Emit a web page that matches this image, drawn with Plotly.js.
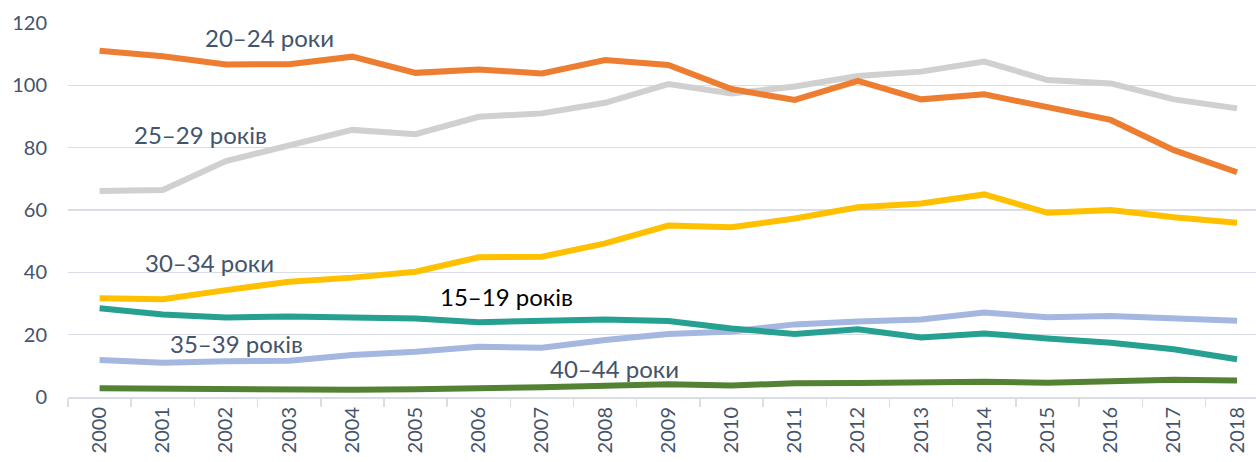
<!DOCTYPE html>
<html>
<head>
<meta charset="utf-8">
<script src="https://cdn.plot.ly/plotly-3.0.1.min.js"></script>
<style>html,body{margin:0;padding:0;background:#fff;}#chart{width:1256px;height:462px;}</style>
</head>
<body>
<div id="chart"></div>
<script>
const years = ["2000","2001","2002","2003","2004","2005","2006","2007","2008","2009","2010","2011","2012","2013","2014","2015","2016","2017","2018"];
const age15_19 = [28.5,26.5,25.5,25.8,25.5,25.2,24.0,24.5,24.9,24.4,22.0,20.2,21.7,19.1,20.4,18.8,17.4,15.3,12.1];
const age20_24 = [111.1,109.3,106.7,106.8,109.2,104.0,105.1,103.8,108.1,106.5,98.8,95.3,101.4,95.5,97.1,93.1,88.9,79.2,72.1];
const age25_29 = [66.1,66.4,75.7,80.6,85.7,84.3,89.9,91.0,94.4,100.4,97.4,99.6,103.0,104.4,107.6,101.7,100.6,95.5,92.6];
const age30_34 = [31.7,31.4,34.3,37.0,38.3,40.2,44.8,45.0,49.3,55.0,54.5,57.3,60.9,62.1,65.0,59.1,60.0,57.7,55.9];
const age35_39 = [11.9,11.0,11.5,11.6,13.5,14.5,16.1,15.8,18.3,20.2,21.0,23.3,24.2,24.9,27.1,25.6,26.0,25.2,24.5];
const age40_44 = [2.8,2.7,2.6,2.2,2.3,2.5,2.6,3.1,3.6,4.1,3.7,4.4,4.5,4.7,4.9,4.6,5.2,5.5,5.3];
const seriesNames = ["15–19 років","20–24 роки","25–29 років","30–34 роки","35–39 років","40–44 роки"];

const colors = ["#26A091","#ED7D31","#D0D0D0","#FFC000","#A4B7E1","#548235"];
const data = [age25_29, age20_24, age30_34, age35_39, age15_19, age40_44];
const order = [2,1,3,4,0,5];
const traces = order.map((si, k) => ({
  type: "scatter", mode: "lines", x: years, y: data[k], name: seriesNames[si],
  line: {color: colors[si], width: 6}, hoverinfo: "skip"
}));

const labelColor = "#44546A";
const font = "Lato, sans-serif";
const fs = 20;
const afs = 24;
const ann = (text, x, y, color) => ({text, x, y, xref: "x", yref: "y", showarrow: false,
  font: {family: font, size: afs, color}, xanchor: "center", yanchor: "middle"});

const layout = {
  width: 1256, height: 462,
  margin: {l: 68, r: 0, t: 23, b: 65},
  paper_bgcolor: "#fff", plot_bgcolor: "#fff",
  showlegend: false,
  font: {family: font, size: fs, color: labelColor},
  xaxis: {type: "category", range: [-0.5, 18.3], tickangle: -90, tickson: "boundaries",
    ticks: "outside", ticklen: 8, tickwidth: 1.5, tickcolor: "#D9DDE6",
    showgrid: false, showline: true, linecolor: "#D9DDE6", linewidth: 2,
    tickfont: {family: font, size: fs, color: labelColor}, fixedrange: true},
  yaxis: {range: [0, 120], dtick: 20, tick0: 0, showgrid: true, gridcolor: "#D9DDE6", gridwidth: 1.5,
    zeroline: false, showline: false, ticks: "", ticklabelstandoff: 20,
    tickfont: {family: font, size: fs, color: labelColor}, fixedrange: true},
  annotations: [
    ann("20–24 роки", 2.69, 115.2, labelColor),
    ann("25–29 років", 1.6, 84.1, labelColor),
    ann("30–34 роки", 1.74, 43.0, labelColor),
    ann("35–39 років", 2.17, 17.3, labelColor),
    ann("15–19 років", 6.44, 32.1, "#000000"),
    ann("40–44 роки", 8.15, 9.0, labelColor)
  ]
};
Plotly.newPlot("chart", traces, layout, {displayModeBar: false, staticPlot: true});
</script>
</body>
</html>
